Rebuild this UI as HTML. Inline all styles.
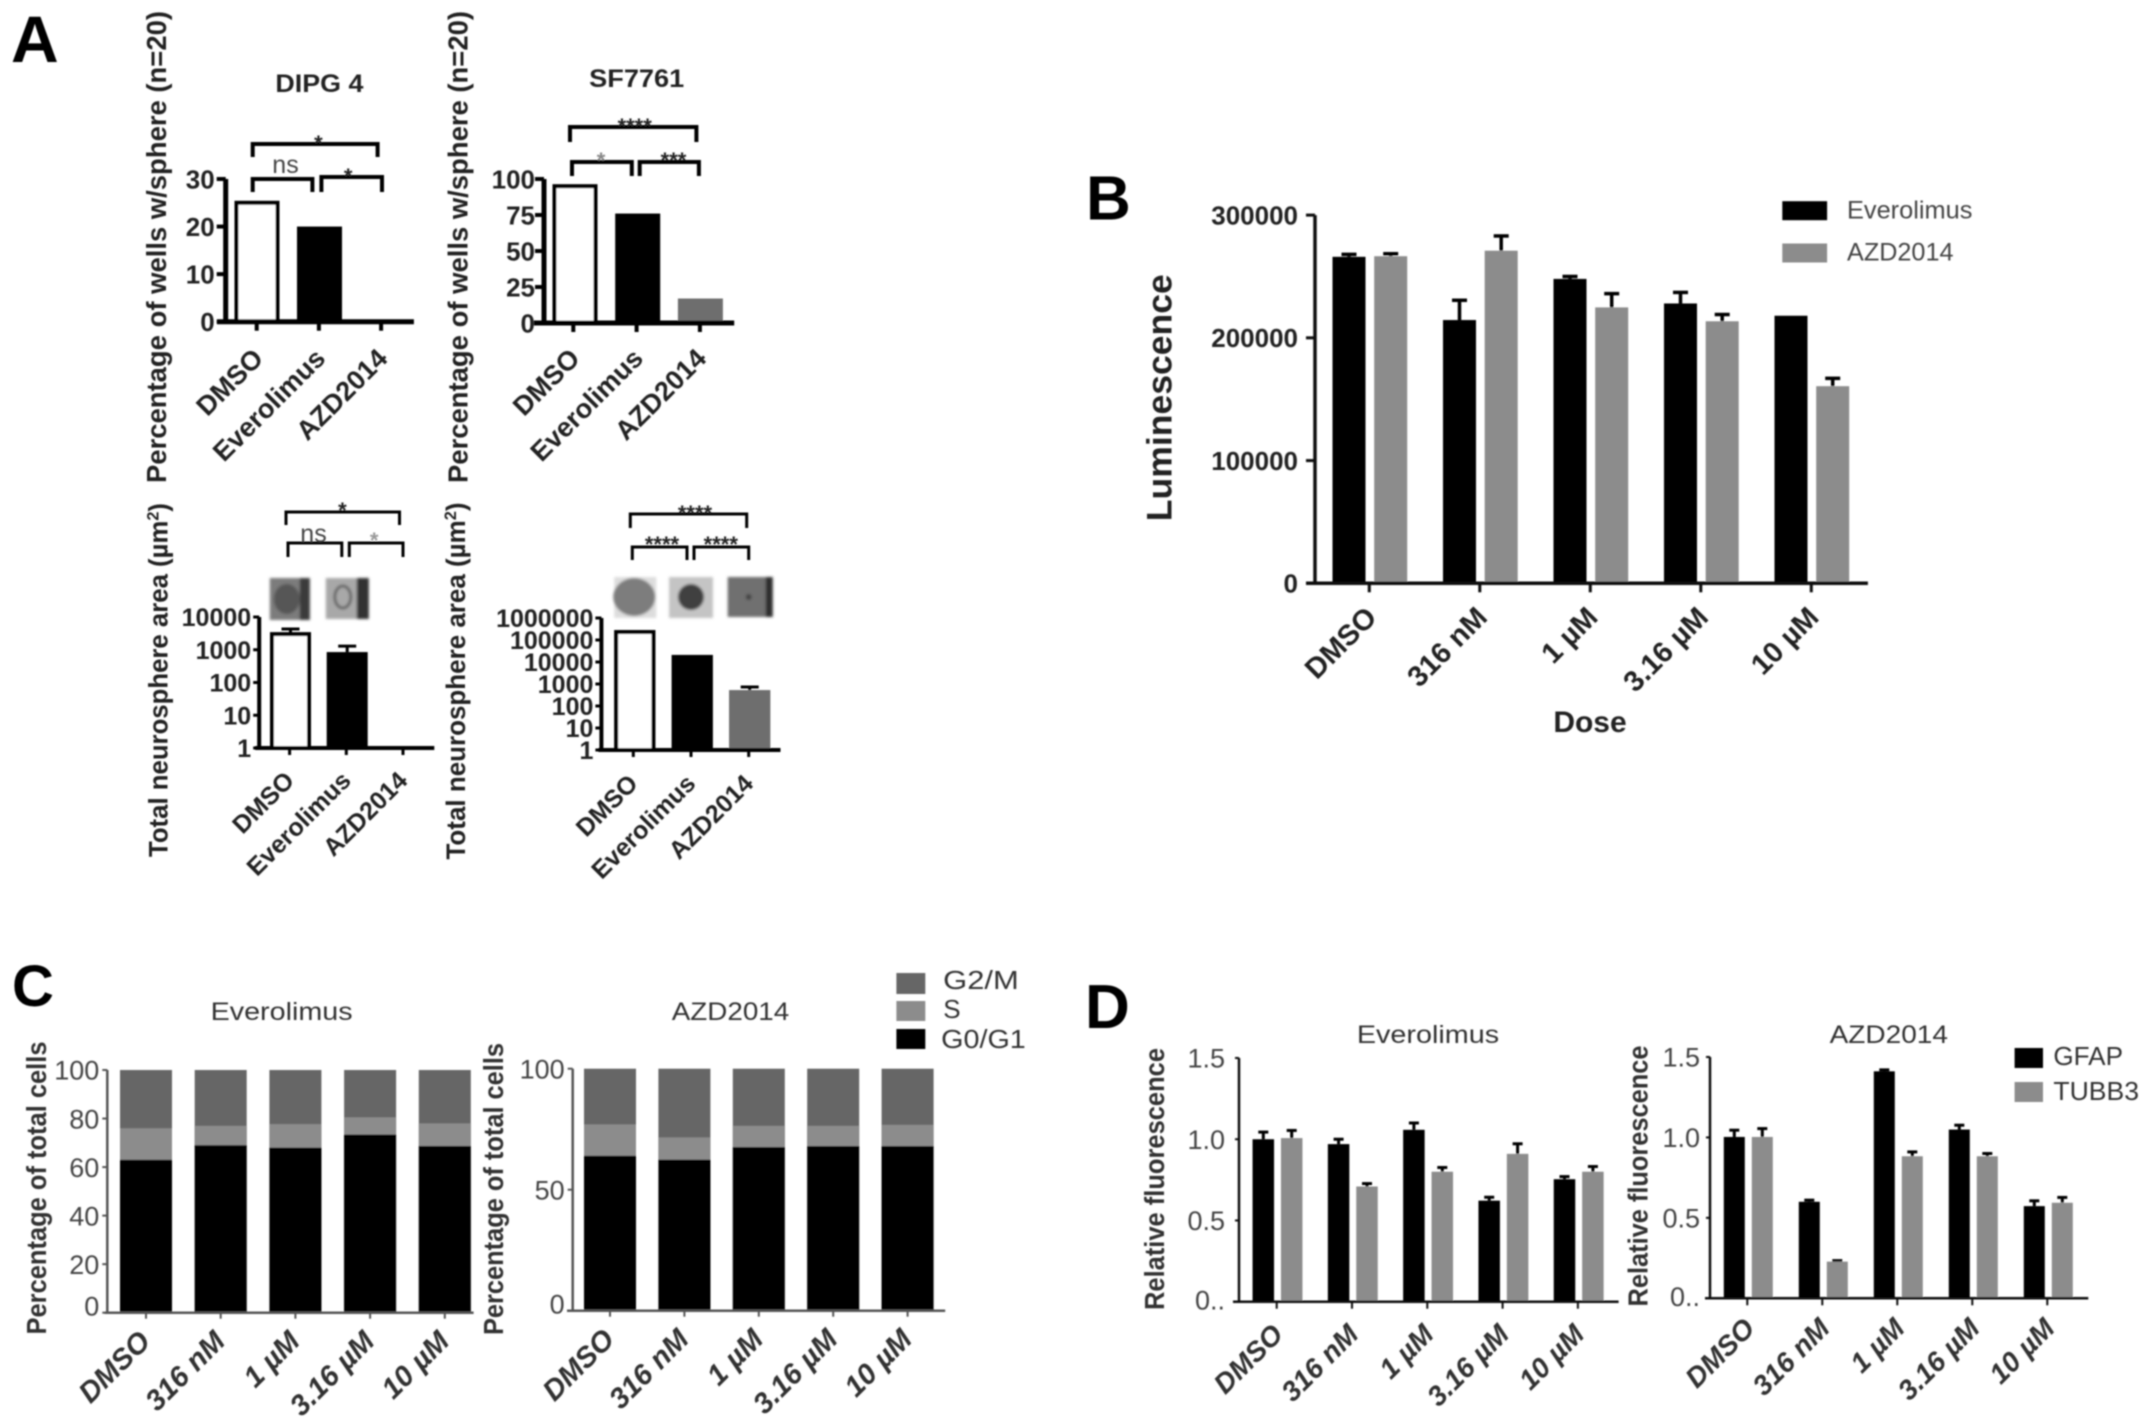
<!DOCTYPE html>
<html lang="en">
<head>
<meta charset="utf-8">
<title>Multi-panel bar charts: Everolimus and AZD2014</title>
<style>
html,body{margin:0;padding:0;background:#fff;}
body{width:2150px;height:1422px;overflow:hidden;}
svg{display:block;}
text{font-family:"Liberation Sans",Arial,sans-serif;}
.b{font-weight:bold;}
.yt{font-weight:bold;text-anchor:middle;}
.star{font-weight:bold;font-size:22px;text-anchor:middle;fill:#222;}
.brk{fill:none;stroke:#000;stroke-width:4;}
.thin{fill:none;stroke:#000;stroke-width:3;}
.lg{font-size:26px;fill:#333;}
</style>
</head>
<body>
<svg id="fig" xmlns="http://www.w3.org/2000/svg" width="2150" height="1422" viewBox="0 0 2150 1422">
<defs>
<filter id="soft" x="0" y="0" width="100%" height="100%"><feGaussianBlur stdDeviation="0.9"/></filter>
<filter id="softer" x="-10%" y="-10%" width="120%" height="120%"><feGaussianBlur stdDeviation="1.2"/></filter>
</defs>
<rect x="0" y="0" width="2150" height="1422" fill="#fff"/>
<g id="root" filter="url(#soft)">

<text class="b" x="11" y="62" font-size="66">A</text>
<text class="b" x="1086" y="219.5" font-size="62">B</text>
<text class="b" x="12" y="1006" font-size="58">C</text>
<text class="b" x="1085" y="1028" font-size="62">D</text>

<text class="b" x="319.4" y="92" font-size="25" text-anchor="middle" fill="#222" textLength="88" lengthAdjust="spacingAndGlyphs">DIPG 4</text>
<text class="b" x="636.7" y="87" font-size="25" text-anchor="middle" fill="#222" textLength="95" lengthAdjust="spacingAndGlyphs">SF7761</text>

<text class="yt" transform="translate(166,247) rotate(-90)" font-size="28" fill="#222" textLength="472" lengthAdjust="spacingAndGlyphs">Percentage of wells w/sphere (n=20)</text>
<text class="yt" transform="translate(467.6,247) rotate(-90)" font-size="28" fill="#222" textLength="472" lengthAdjust="spacingAndGlyphs">Percentage of wells w/sphere (n=20)</text>
<text class="yt" transform="translate(167.7,680) rotate(-90)" font-size="27" fill="#222" textLength="354" lengthAdjust="spacingAndGlyphs">Total neurosphere area (µm<tspan font-size="17" dy="-9">2</tspan><tspan dy="9">)</tspan></text>
<text class="yt" transform="translate(465.1,681) rotate(-90)" font-size="27" fill="#222" textLength="357" lengthAdjust="spacingAndGlyphs">Total neurosphere area (µm<tspan font-size="17" dy="-9">2</tspan><tspan dy="9">)</tspan></text>
<text class="yt" transform="translate(1171.4,397.7) rotate(-90)" font-size="35" fill="#222" textLength="247" lengthAdjust="spacingAndGlyphs">Luminescence</text>
<text class="yt" transform="translate(45.8,1188) rotate(-90)" font-size="28" fill="#333" textLength="293" lengthAdjust="spacingAndGlyphs">Percentage of total cells</text>
<text class="yt" transform="translate(503,1189) rotate(-90)" font-size="28" fill="#333" textLength="292" lengthAdjust="spacingAndGlyphs">Percentage of total cells</text>
<text class="yt" transform="translate(1164,1179) rotate(-90)" font-size="28" fill="#333" textLength="262" lengthAdjust="spacingAndGlyphs">Relative fluorescence</text>
<text class="yt" transform="translate(1647.5,1176) rotate(-90)" font-size="28" fill="#333" textLength="261" lengthAdjust="spacingAndGlyphs">Relative fluorescence</text>

<g>
<path class="brk" d="M252.7 157V144H377.6V157"/>
<path class="brk" d="M252.7 192V179H312.4V192"/>
<path class="brk" d="M321.4 192V177H382V192"/>
<text class="star" x="318.4" y="151">*</text>
<text x="285.5" y="173" font-size="25" text-anchor="middle" fill="#444">ns</text>
<text class="star" x="348.2" y="184">*</text>
</g>
<g>
<path class="brk" d="M570 142V127H696.4V142"/>
<path class="brk" d="M572 176V162H631.8V176"/>
<path class="brk" d="M639.7 176V162H698.9V176"/>
<text class="star" x="634.7" y="134">****</text>
<text class="star" x="601" y="168" style="fill:#888">*</text>
<text class="star" x="673.5" y="168">***</text>
</g>
<g>
<path class="thin" d="M286 525V512H399.5V525"/>
<path class="thin" d="M288 557V543H341.8V557"/>
<path class="thin" d="M349.3 557V543H403V557"/>
<text class="star" x="342.4" y="518">*</text>
<text x="313.5" y="542" font-size="25" text-anchor="middle" fill="#444">ns</text>
<text class="star" x="374.1" y="548" style="fill:#999">*</text>
</g>
<g>
<path class="thin" d="M630.3 528V514H746.7V528"/>
<path class="thin" d="M632.3 560V547H687V560"/>
<path class="thin" d="M694 560V547H748.7V560"/>
<text class="star" x="695" y="521">****</text>
<text class="star" x="662" y="552">****</text>
<text class="star" x="720.8" y="552">****</text>
</g>

<g filter="url(#softer)">
<g transform="translate(-1.2,0)"><rect x="271" y="578" width="40" height="42" fill="#7b7b7b"/><ellipse cx="288" cy="599" rx="13" ry="15" fill="#575757"/><rect x="301" y="578" width="10" height="42" fill="#3a3a3a"/></g>
<g transform="translate(-1.2,0)"><rect x="327" y="578" width="43" height="41" fill="#a8a8a8"/><ellipse cx="344" cy="597" rx="8" ry="11" fill="none" stroke="#666" stroke-width="3"/><rect x="358" y="578" width="12" height="41" fill="#333"/></g>
<g transform="translate(-2.8,0)"><rect x="617" y="577" width="42" height="41" fill="#ddd"/><ellipse cx="637" cy="597" rx="21" ry="19" fill="#7d7d7d"/></g>
<g transform="translate(-3,0)"><rect x="672" y="577" width="44" height="41" fill="#c4c4c4"/><circle cx="694" cy="597" r="13" fill="#3f3f3f"/></g>
<g transform="translate(-3.3,0)"><rect x="731" y="577" width="45" height="40" fill="#707070"/><circle cx="752" cy="597" r="3" fill="#444"/><rect x="769" y="577" width="7" height="40" fill="#2e2e2e"/></g>
</g>

<g>
<rect x="1782.3" y="201.2" width="44.8" height="19" fill="#000"/>
<rect x="1782.3" y="243.5" width="44.8" height="19" fill="#8c8c8c"/>
<text x="1847" y="218.6" font-size="25" fill="#444" textLength="125.4" lengthAdjust="spacingAndGlyphs">Everolimus</text>
<text x="1847" y="260.4" font-size="25" fill="#444" textLength="106.5" lengthAdjust="spacingAndGlyphs">AZD2014</text>
</g>
<text x="1590" y="732" font-size="30" class="b" text-anchor="middle" fill="#222">Dose</text>

<text x="281.6" y="1020" font-size="25" text-anchor="middle" fill="#333" textLength="142" lengthAdjust="spacingAndGlyphs">Everolimus</text>
<text x="730.5" y="1020" font-size="25" text-anchor="middle" fill="#333" textLength="117.5" lengthAdjust="spacingAndGlyphs">AZD2014</text>
<g>
<rect x="896.4" y="973" width="28.9" height="21" fill="#666"/>
<rect x="896.4" y="1001" width="28.9" height="20" fill="#8c8c8c"/>
<rect x="896.4" y="1029" width="28.9" height="20" fill="#000"/>
<text class="lg" x="943.2" y="989" textLength="75.6" lengthAdjust="spacingAndGlyphs">G2/M</text>
<text class="lg" x="943.2" y="1018">S</text>
<text class="lg" x="941.2" y="1048" textLength="84.6" lengthAdjust="spacingAndGlyphs">G0/G1</text>
</g>

<text x="1428" y="1043" font-size="25" text-anchor="middle" fill="#333" textLength="142.3" lengthAdjust="spacingAndGlyphs">Everolimus</text>
<text x="1888.8" y="1043" font-size="25" text-anchor="middle" fill="#333" textLength="118.4" lengthAdjust="spacingAndGlyphs">AZD2014</text>
<g>
<rect x="2014.6" y="1048" width="28.4" height="20" fill="#000"/>
<rect x="2014.6" y="1082" width="28.4" height="20" fill="#8c8c8c"/>
<text class="lg" x="2053.4" y="1065" textLength="69.6" lengthAdjust="spacingAndGlyphs">GFAP</text>
<text class="lg" x="2053.4" y="1100" textLength="85.6" lengthAdjust="spacingAndGlyphs">TUBB3</text>
</g>

</g>
</svg>
<script>
// ---- Panel A data ----
const sphereCategories = ['DMSO', 'Everolimus', 'AZD2014'];
const dipgWellValues = [25, 20, 0];
const dipgWellTicks = [0, 10, 20, 30];
const sfWellValues = [95, 76, 17];
const sfWellTicks = [0, 25, 50, 75, 100];
const dipgAreaValues = [3000, 850, 1];
const dipgAreaErrors = [4300, 1290, 1];
const dipgAreaTicks = [1, 10, 100, 1000, 10000];
const sfAreaValues = [230000, 21000, 530];
const sfAreaErrors = [230000, 21000, 730];
const sfAreaTicks = [1, 10, 100, 1000, 10000, 100000, 1000000];
const sphereFills = ['#fff', '#000', '#6e6e6e'];

// ---- Panel B data ----
const doseCategories = ['DMSO', '316 nM', '1 µM', '3.16 µM', '10 µM'];
const lumEverolimus = [266000, 214500, 248000, 228000, 218000];
const lumEverolimusErr = [268000, 230600, 250000, 237000, 218000];
const lumAzd = [266500, 271000, 224800, 213500, 160600];
const lumAzdErr = [268500, 283000, 236000, 219000, 167000];
const lumTicks = [0, 100000, 200000, 300000];

// ---- Panel C data (stack boundaries, percent) ----
const cycleEveG0 = [63, 69, 68, 73.4, 68.7];
const cycleEveS = [76, 77, 77.7, 80.5, 78];
const cycleEveG2 = [100, 100, 100, 100, 100];
const cycleEveTicks = [0, 20, 40, 60, 80, 100];
const cycleAzdG0 = [64, 62.4, 67.6, 68, 68];
const cycleAzdS = [77, 71.6, 76.4, 76.4, 76.8];
const cycleAzdG2 = [100, 100, 100, 100, 100];
const cycleAzdTicks = [0, 50, 100];

// ---- Panel D data ----
const fluorEveGfap = [1.0, 0.97, 1.058, 0.622, 0.754];
const fluorEveGfapErr = [1.044, 1.0, 1.1, 0.643, 0.77];
const fluorEveTubb = [1.007, 0.709, 0.8, 0.91, 0.8];
const fluorEveTubbErr = [1.054, 0.727, 0.826, 0.972, 0.832];
const fluorAzdGfap = [1.003, 0.6, 1.411, 1.049, 0.573];
const fluorAzdGfapErr = [1.045, 0.61, 1.42, 1.076, 0.606];
const fluorAzdTubb = [1.003, 0.228, 0.883, 0.883, 0.594];
const fluorAzdTubbErr = [1.055, 0.234, 0.91, 0.9, 0.627];
const fluorTicks = [0, 0.5, 1, 1.5];
const fluorTickLabels = ['0..', '0.5', '1.0', '1.5'];

const NS = 'http://www.w3.org/2000/svg';
const root = document.getElementById('root');

function make(tag, name, attrs, parent) {
  const node = document.createElementNS(NS, tag);
  
  
  Object.keys(attrs).forEach(function (k) { node.setAttribute(k, attrs[k]); });
  parent.appendChild(node);
  return node;
}
function slug(s) { return String(s).toLowerCase().replace(/[^a-z0-9]+/g, '-'); }
function linear(d0, d1, r0, r1) { return function (v) { return r0 + (v - d0) / (d1 - d0) * (r1 - r0); }; }
function logScale(dMax, r0, r1) { return function (v) { return r0 + Math.log10(Math.max(v, 1)) / Math.log10(dMax) * (r1 - r0); }; }
function bandX(first, step) { return function (i) { return first + i * step; }; }

function drawAxes(cfg) {
  const g = make('g', 'chart-' + cfg.id, {}, root);
  const axes = make('g', 'axes-' + cfg.id, {}, g);
  cfg.g = g;
  const top = cfg.y(cfg.yTicks[cfg.yTicks.length - 1]);
  const bottom = cfg.y(cfg.yTicks[0]);
  cfg.after = function () {
    make('line', 'y-axis-line', { x1: cfg.axisX, x2: cfg.axisX, y1: top, y2: bottom, stroke: cfg.color, 'stroke-width': cfg.axisW }, axes);
    make('line', 'x-axis-line', { x1: cfg.xLeft, x2: cfg.xRight, y1: bottom, y2: bottom, stroke: cfg.color, 'stroke-width': cfg.axisW }, axes);
    g.appendChild(axes);
  };
  cfg.yTicks.forEach(function (t, i) {
    const y = cfg.y(t);
    make('line', 'y-tick', { x1: cfg.axisX - cfg.tickLen, x2: cfg.axisX, y1: y, y2: y, stroke: cfg.color, 'stroke-width': cfg.tickW }, axes);
    const txt = make('text', 'y-tick-label', {
      x: cfg.axisX - cfg.labelGap,
      y: y + cfg.tickFont * 0.36 + (i === 0 ? cfg.zeroDy : 0) + cfg.labelDy,
      'font-size': cfg.tickFont,
      'font-weight': cfg.tickWeight,
      fill: cfg.tickColor,
      'text-anchor': 'end'
    }, axes);
    txt.textContent = cfg.yTickLabels ? cfg.yTickLabels[i] : String(t);
  });
  cfg.categories.forEach(function (c, i) {
    const x = cfg.x(i);
    make('line', 'x-tick', { x1: x, x2: x, y1: bottom, y2: bottom + cfg.xTickLen, stroke: cfg.color, 'stroke-width': cfg.tickW }, axes);
    const ax = x + cfg.xLabelDx;
    const txt = make('text', 'x-tick-label-' + slug(c), {
      transform: 'translate(' + ax + ',' + cfg.xLabelY + ') rotate(-45)',
      'font-size': cfg.xFont,
      'font-weight': 'bold',
      'font-style': cfg.italic ? 'italic' : 'normal',
      fill: cfg.xColor,
      'text-anchor': 'end'
    }, axes);
    txt.textContent = c;
  });
}

function drawBar(cfg, name, cx, w, value, fill, outlined) {
  const y0 = cfg.y(cfg.yTicks[0]);
  const yv = cfg.y(value);
  const attrs = { x: cx - w / 2, y: Math.min(yv, y0), width: w, height: Math.abs(y0 - yv), fill: fill };
  if (outlined) {
    attrs.x = cx - w / 2 + 2;
    attrs.width = w - 4;
    attrs.stroke = '#000';
    attrs['stroke-width'] = 4;
  }
  make('rect', name, attrs, cfg.g);
}
function drawErr(cfg, name, cx, value, err, capW, w) {
  if (err <= value) return;
  const g = make('g', name, {}, cfg.g);
  make('line', 'error-stem', { x1: cx, x2: cx, y1: cfg.y(value), y2: cfg.y(err), stroke: '#000', 'stroke-width': w }, g);
  make('line', 'error-cap', { x1: cx - capW / 2, x2: cx + capW / 2, y1: cfg.y(err), y2: cfg.y(err), stroke: '#000', 'stroke-width': w }, g);
}

function sphereChart(cfg, values, errors, barFirst, barStep, barW) {
  drawAxes(cfg);
  cfg.categories.forEach(function (c, i) {
    if (values[i] <= (cfg.yTicks[0])) return;
    const cx = barFirst + i * barStep;
    if (errors) drawErr(cfg, 'error-bar-' + cfg.id + '-' + slug(c), cx, values[i], errors[i], 18, 3);
    drawBar(cfg, 'bar-' + cfg.id + '-' + slug(c), cx, barW, values[i], sphereFills[i], i === 0);
  });
  cfg.after();
}
function groupedChart(cfg, s1, s1e, s2, s2e, n1, n2, off1, off2, w, capW, errW) {
  drawAxes(cfg);
  cfg.categories.forEach(function (c, i) {
    const x = cfg.x(i);
    drawErr(cfg, 'error-bar-' + n1 + '-' + slug(c), x + off1, s1[i], s1e[i], capW, errW);
    drawBar(cfg, 'bar-' + n1 + '-' + slug(c), x + off1, w, s1[i], '#000');
    drawErr(cfg, 'error-bar-' + n2 + '-' + slug(c), x + off2, s2[i], s2e[i], capW, errW);
    drawBar(cfg, 'bar-' + n2 + '-' + slug(c), x + off2, w, s2[i], '#8c8c8c');
  });
  cfg.after();
}
function stackedChart(cfg, g0, s, g2, w, off) {
  drawAxes(cfg);
  cfg.categories.forEach(function (c, i) {
    const cx = cfg.x(i) + off;
    drawBar(cfg, 'bar-g2m-' + cfg.id + '-' + slug(c), cx, w, g2[i], '#666');
    drawBar(cfg, 'bar-s-' + cfg.id + '-' + slug(c), cx, w, s[i], '#8c8c8c');
    drawBar(cfg, 'bar-g0g1-' + cfg.id + '-' + slug(c), cx, w, g0[i], '#000');
  });
  cfg.after();
}

const sphereBase = { categories: sphereCategories, color: '#000', axisW: 5, tickW: 4, tickLen: 9, xTickLen: 9, tickFont: 26, tickWeight: 'bold', tickColor: '#222', labelGap: 11, labelDy: 0, zeroDy: 0, xFont: 27, xColor: '#222', italic: false };

sphereChart(Object.assign({}, sphereBase, {
  id: 'dipg4-wells', axisX: 225.7, xLeft: 217, xRight: 413.9,
  y: linear(0, 30, 321.7, 179), yTicks: dipgWellTicks,
  x: bandX(256.7, 62.2), xLabelDx: 8, xLabelY: 360
}), dipgWellValues, null, 257, 62.5, 45);

sphereChart(Object.assign({}, sphereBase, {
  id: 'sf7761-wells', axisX: 544, xLeft: 534, xRight: 734.2,
  y: linear(0, 100, 323, 179), yTicks: sfWellTicks,
  x: bandX(573.3, 63.3), xLabelDx: 8, xLabelY: 360, labelGap: 9
}), sfWellValues, null, 575, 62.7, 45);

sphereChart(Object.assign({}, sphereBase, {
  id: 'dipg4-area', axisX: 259.2, xLeft: 255.2, xRight: 434.3, axisW: 4, tickW: 3, tickLen: 6, xTickLen: 7, labelGap: 8,
  y: logScale(10000, 748, 617), yTicks: dipgAreaTicks,
  x: bandX(289.6, 56.7), xLabelDx: 6, xLabelY: 782, xFont: 25, tickFont: 25
}), dipgAreaValues, dipgAreaErrors, 290.5, 56.7, 41);

sphereChart(Object.assign({}, sphereBase, {
  id: 'sf7761-area', axisX: 601.4, xLeft: 598.4, xRight: 780.5, axisW: 4, tickW: 3, tickLen: 6, xTickLen: 7, labelGap: 8,
  y: logScale(1000000, 750, 618), yTicks: sfAreaTicks,
  x: bandX(633.3, 57.7), xLabelDx: 6, xLabelY: 785, xFont: 25, tickFont: 25
}), sfAreaValues, sfAreaErrors, 634.8, 57.45, 41.3);

groupedChart({
  id: 'luminescence', categories: doseCategories, color: '#111', axisW: 3.5, tickW: 3, tickLen: 9, xTickLen: 9,
  axisX: 1315, xLeft: 1306, xRight: 1867.9,
  tickFont: 26, tickWeight: 'bold', tickColor: '#222', labelGap: 17, labelDy: 0, zeroDy: 0,
  y: linear(0, 300000, 583.3, 215.1), yTicks: lumTicks,
  x: bandX(1369.3, 110.5), xLabelDx: 9, xLabelY: 619, xFont: 29, xColor: '#222', italic: false
}, lumEverolimus, lumEverolimusErr, lumAzd, lumAzdErr, 'everolimus', 'azd2014', -20.3, 21.4, 33, 15, 3.5);

const cycleBase = { categories: doseCategories, color: '#555', axisW: 2.5, tickW: 2, tickLen: 5, xTickLen: 6, tickFont: 27, tickWeight: 'normal', tickColor: '#444', labelGap: 8, labelDy: 0, zeroDy: -7, xFont: 29, xColor: '#333', italic: true };

stackedChart(Object.assign({}, cycleBase, {
  id: 'cell-cycle-everolimus', axisX: 107.3, xLeft: 104.7, xRight: 473.6,
  y: linear(0, 100, 1312.7, 1070), yTicks: cycleEveTicks,
  x: bandX(146, 74.7), xLabelDx: 6, xLabelY: 1343
}), cycleEveG0, cycleEveS, cycleEveG2, 52, 0);

stackedChart(Object.assign({}, cycleBase, {
  id: 'cell-cycle-azd2014', axisX: 572.7, xLeft: 567, xRight: 945.2,
  y: linear(0, 100, 1310.7, 1068.7), yTicks: cycleAzdTicks,
  x: bandX(610, 74.4), xLabelDx: 6, xLabelY: 1341
}), cycleAzdG0, cycleAzdS, cycleAzdG2, 52, 0);

const fluorBase = { categories: doseCategories, color: '#111', axisW: 2.5, tickW: 2, tickLen: 4, xTickLen: 7, tickFont: 27, tickWeight: 'normal', tickColor: '#444', labelGap: 14, labelDy: 0, zeroDy: -2, yTicks: fluorTicks, yTickLabels: fluorTickLabels, xFont: 28, xColor: '#333', italic: true };

groupedChart(Object.assign({}, fluorBase, {
  id: 'fluorescence-everolimus', axisX: 1239, xLeft: 1233, xRight: 1618.6,
  y: linear(0, 1.5, 1301.7, 1058),
  x: bandX(1276.7, 75.3), xLabelDx: 8, xLabelY: 1336
}), fluorEveGfap, fluorEveGfapErr, fluorEveTubb, fluorEveTubbErr, 'gfap-everolimus', 'tubb3-everolimus', -13.4, 15, 21.5, 10, 3);

groupedChart(Object.assign({}, fluorBase, {
  id: 'fluorescence-azd2014', axisX: 1710, xLeft: 1705, xRight: 2088.3, labelGap: 10,
  y: linear(0, 1.5, 1298.3, 1057),
  x: bandX(1747.3, 75), xLabelDx: 9, xLabelY: 1330
}), fluorAzdGfap, fluorAzdGfapErr, fluorAzdTubb, fluorAzdTubbErr, 'gfap-azd2014', 'tubb3-azd2014', -13, 15, 21, 10, 3);
</script>
</body>
</html>
